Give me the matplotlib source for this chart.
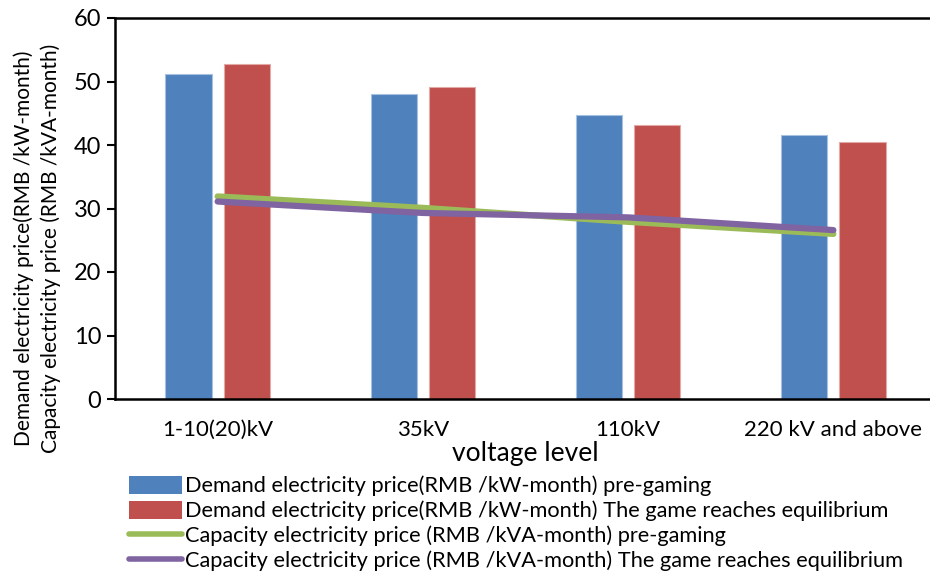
import numpy as np
import matplotlib.pyplot as plt
from matplotlib.lines import Line2D
from matplotlib.patches import Patch

plt.rcParams['font.family'] = ['Lato', 'DejaVu Sans']

# niveles de tension y precios
niveles = ['1-10(20)kV', '35kV', '110kV', '220 kV and above']
demanda_antes = [51.2, 48.0, 44.8, 41.6]
demanda_equilibrio = [52.7, 49.2, 43.2, 40.5]
capacidad_antes = [31.9, 30.1, 27.9, 26.0]
capacidad_equilibrio = [31.1, 29.3, 28.6, 26.6]

etiquetas = ['Demand electricity price(RMB /kW-month) pre-gaming',
             'Demand electricity price(RMB /kW-month) The game reaches equilibrium',
             'Capacity electricity price (RMB /kVA-month) pre-gaming',
             'Capacity electricity price (RMB /kVA-month) The game reaches equilibrium']

azul = '#4F81BD'
rojo = '#C0504D'
verde = '#9BBB59'
morado = '#8064A2'

fig = plt.figure(figsize=(9.3, 5.78), dpi=100)
ax = fig.add_axes([115/930, 1 - 399/578, 821/930, 381/578])

x = np.arange(len(niveles))
ancho = 0.225
ax.bar(x - 0.142, demanda_antes, ancho, color=azul, edgecolor='#a9c1e0', linewidth=0.8)
ax.bar(x + 0.142, demanda_equilibrio, ancho, color=rojo, edgecolor='#e2a9a7', linewidth=0.8)
ax.plot(x, capacidad_antes, color=verde, lw=4.5, solid_capstyle='round')
ax.plot(x, capacidad_equilibrio, color=morado, lw=4.5, solid_capstyle='round')

ax.set_xlim(-0.5, 3.5)
ax.set_ylim(0, 60)
ax.set_yticks(range(0, 61, 10))
ax.set_xticks(x)
ax.set_xticklabels(niveles)
ax.tick_params(axis='y', labelsize=17, length=6, width=1.5, direction='out', pad=4)
ax.tick_params(axis='x', labelsize=16, length=0, pad=15)
for lado in ['left', 'bottom', 'top']:
    ax.spines[lado].set_linewidth(1.8)
ax.spines['right'].set_visible(False)

ax.set_xlabel('voltage level', fontsize=19, labelpad=1)

# etiqueta del eje y en dos lineas
fig.text(24/930, 1 - 248/578, 'Demand electricity price(RMB /kW-month)',
         rotation=90, ha='center', va='center', fontsize=15)
fig.text(51/930, 1 - 248/578, 'Capacity electricity price (RMB /kVA-month)',
         rotation=90, ha='center', va='center', fontsize=15)

manijas = [Patch(facecolor=azul), Patch(facecolor=rojo),
           Line2D([], [], color=verde, lw=4, solid_capstyle='round'),
           Line2D([], [], color=morado, lw=4, solid_capstyle='round')]
fig.legend(manijas, etiquetas, loc='upper left', bbox_to_anchor=(120/930, 1 - 467/578),
           frameon=False, fontsize=15.7, handlelength=2.45, handleheight=0.9,
           handletextpad=0.15, labelspacing=0.2, borderaxespad=0)

fig.savefig('out.png', dpi=100)
